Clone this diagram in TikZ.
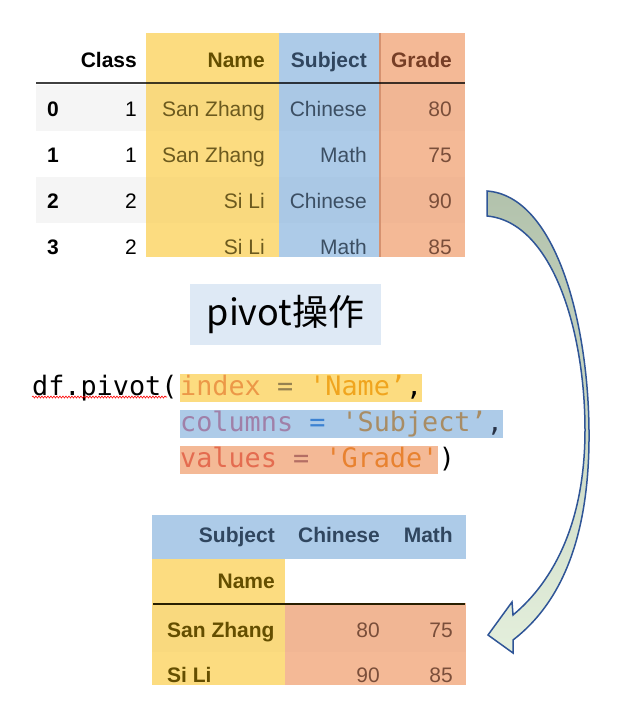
\documentclass[tikz,border=0pt]{standalone}
\usepackage{fontspec}
\setmainfont{Liberation Sans}
\newfontfamily\cjk{Noto Sans CJK SC}
\newfontfamily\codefont{DejaVu Sans Mono}
\usetikzlibrary{decorations.pathmorphing}
\definecolor{colY}{RGB}{252,220,128}
\definecolor{colB}{RGB}{173,203,232}
\definecolor{colO}{RGB}{244,185,150}
\definecolor{zebra}{RGB}{245,245,245}
\definecolor{txY}{RGB}{108,90,30}
\definecolor{txYb}{RGB}{100,78,0}
\definecolor{txB}{RGB}{60,79,99}
\definecolor{txBb}{RGB}{48,70,95}
\definecolor{txO}{RGB}{122,78,58}
\definecolor{txOb}{RGB}{118,62,38}
\definecolor{lnO}{RGB}{214,146,112}
\definecolor{pivbg}{RGB}{222,233,245}
\definecolor{arrEdge}{RGB}{47,85,151}
\definecolor{arrTop}{RGB}{178,194,172}
\definecolor{arrBot}{RGB}{228,239,220}
\definecolor{cIdx}{RGB}{236,152,72}
\definecolor{cEq1}{RGB}{150,130,80}
\definecolor{cName}{RGB}{240,165,30}
\definecolor{cCol}{RGB}{160,128,168}
\definecolor{cEq2}{RGB}{60,130,210}
\definecolor{cSubj}{RGB}{168,140,100}
\definecolor{cComma}{RGB}{40,50,70}
\definecolor{cVal}{RGB}{228,108,80}
\definecolor{cEq3}{RGB}{180,110,100}
\definecolor{cGrade}{RGB}{232,130,48}
\tikzset{
  tfont/.style={font=\fontsize{21}{25}\selectfont},
  rcell/.style={tfont, inner sep=0pt, anchor=base east},
  lcell/.style={tfont, inner sep=0pt, anchor=base west},
  bold/.style={font=\fontsize{21}{25}\selectfont\bfseries},
  codeline/.style={font=\codefont\fontsize{26.8}{30}\selectfont, inner sep=0pt, anchor=base west, text height=21pt, text depth=6.5pt},
}
\begin{document}
\begin{tikzpicture}[x=1pt,y=-1pt]
\useasboundingbox (0,0) rectangle (629,715);
% ---------- top table ----------
\begin{scope}
\clip (0,0) rectangle (629,256);
\fill[zebra] (36,85) rectangle (146,131);
\fill[zebra] (36,177) rectangle (146,223);
\fill[colY] (146,33) rectangle (279,260);
\fill[colB] (279,33) rectangle (380,260);
\fill[colO] (380,33) rectangle (465,260);
\fill[black,opacity=0.012] (146,85) rectangle (465,131);
\fill[black,opacity=0.012] (146,177) rectangle (465,223);
\draw[lnO,line width=1.5pt] (380,33) -- (380,260);
\draw[black,opacity=0.75,line width=1.4pt] (36,83) -- (465,83);
\node[rcell,bold] (hClass) at (137,67) {Class};
\node[rcell,bold,text=txYb] (hName) at (265,67) {Name};
\node[rcell,bold,text=txBb] (hSubj) at (367,67) {Subject};
\node[rcell,bold,text=txOb] (hGrade) at (452,67) {Grade};
\foreach \i/\c/\n/\s/\g [count=\k from 0] in {0/1/San Zhang/Chinese/80,1/1/San Zhang/Math/75,2/2/Si Li/Chinese/90,3/2/Si Li/Math/85}{
  \pgfmathsetmacro{\yy}{116+46*\k}
  \node[lcell,bold] (idx\k) at (47,\yy) {\i};
  \node[rcell] (cls\k) at (137,\yy) {\c};
  \node[rcell,text=txY] (nm\k) at (265,\yy) {\n};
  \node[rcell,text=txB] (sb\k) at (367,\yy) {\s};
  \node[rcell,text=txO] (gr\k) at (452,\yy) {\g};
}
\end{scope}
% ---------- pivot label ----------
\node[fill=pivbg, minimum width=191pt, minimum height=61pt, inner sep=0pt,
      font=\cjk\fontsize{36}{40}\selectfont] (piv) at (285.5,314.5) {pivot操作};
% ---------- code ----------
\node[codeline] (c0) at (32,395) {df.pivot(};
\draw[red, line width=0.6pt, decorate, decoration={snake, amplitude=1pt, segment length=3pt}] (c0.base west) ++(0,2) -- ++(135,0);
\node[codeline, fill=colY] (c1) at (180,395) {\textcolor{cIdx}{index} \textcolor{cEq1}{=} \textcolor{cName}{\textquotesingle Name’}\textcolor{black}{,}\hspace{8pt}};
\node[codeline, fill=colB] (c2) at (180,431) {\textcolor{cCol}{columns} \textcolor{cEq2}{=} \textcolor{cSubj}{\textquotesingle Subject’}\textcolor{cComma}{,}\hspace{6pt}};
\node[codeline, fill=colO] (c3) at (180,467) {\textcolor{cVal}{values} \textcolor{cEq3}{=} \textcolor{cGrade}{\textquotesingle Grade\textquotesingle}\hspace{5pt}};
\node[codeline, anchor=base west] (c3b) at (c3.base east) {)};
% ---------- bottom table ----------
\begin{scope}
\clip (0,500) rectangle (629,684);
\fill[colB] (152,515) rectangle (466,559);
\fill[colY] (152,559) rectangle (285,690);
\fill[colO] (285,603) rectangle (466,690);
\fill[black,opacity=0.012] (152,605) rectangle (466,652);
\draw[black!60!txYb,line width=1.4pt] (153,604) -- (465,604);
\node[rcell,bold,text=txBb] (bSubj) at (275,542) {Subject};
\node[rcell,bold,text=txBb] (bChi) at (380,542) {Chinese};
\node[rcell,bold,text=txBb] (bMath) at (453,542) {Math};
\node[rcell,bold,text=txYb] (bName) at (275,588) {Name};
\node[lcell,bold,text=txYb] (bSZ) at (167,637) {San Zhang};
\node[lcell,bold,text=txYb] (bSL) at (167,682) {Si Li};
\node[rcell,text=txO] (v1) at (380,637) {80};
\node[rcell,text=txO] (v2) at (453,637) {75};
\node[rcell,text=txO] (v3) at (380,682) {90};
\node[rcell,text=txO] (v4) at (453,682) {85};
\end{scope}
% ---------- curved block arrow ----------
\draw[arrEdge, line width=1.5pt, line join=miter, top color=arrTop, bottom color=arrBot]
  (487,191) .. controls (555,196) and (588,320) .. (589,430)
  .. controls (590,530) and (565,600) .. (513,640)
  -- (513,653) -- (488,635) -- (512,602) -- (513,615)
  .. controls (555,580) and (585,520) .. (585,430)
  .. controls (585,330) and (552,222) .. (487,216) -- cycle;
\end{tikzpicture}
\end{document}
